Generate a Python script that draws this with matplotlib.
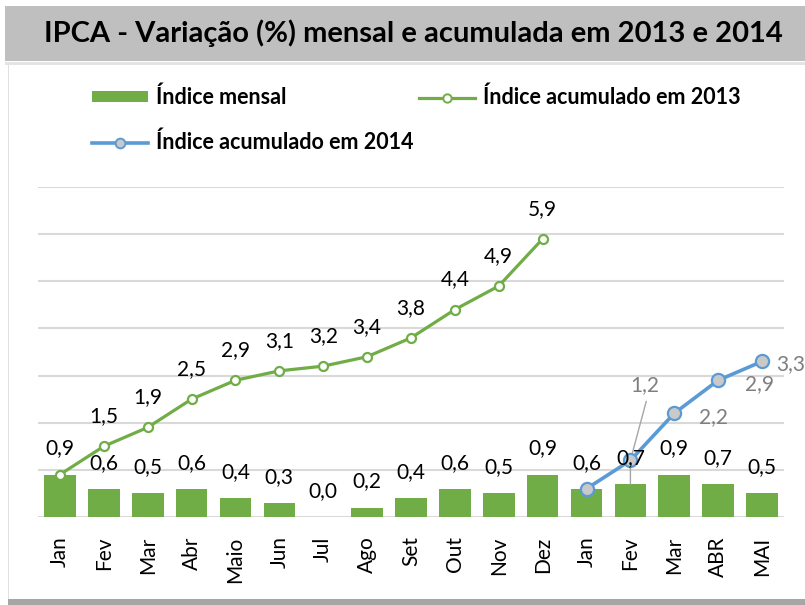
import matplotlib
matplotlib.use("Agg")
import matplotlib.pyplot as plt
from matplotlib.patches import Rectangle, Patch
from matplotlib.lines import Line2D

# Monthly IPCA (%) and accumulated index for 2013 and 2014
months = ["Jan", "Fev", "Mar", "Abr", "Maio", "Jun", "Jul", "Ago", "Set", "Out", "Nov", "Dez",
          "Jan", "Fev", "Mar", "ABR", "MAI"]
monthly = [0.9, 0.6, 0.5, 0.6, 0.4, 0.3, 0.0, 0.2, 0.4, 0.6, 0.5, 0.9,
           0.6, 0.7, 0.9, 0.7, 0.5]
acc_2013 = [0.9, 1.5, 1.9, 2.5, 2.9, 3.1, 3.2, 3.4, 3.8, 4.4, 4.9, 5.9]
acc_2014 = [0.6, 1.2, 2.2, 2.9, 3.3]

GREEN = "#70AD47"
BLUE = "#5B9BD5"
GRID = "#D9D9D9"
LABEL_GREY = "#7F7F7F"
FONT = "Lato"
LBL = 15

plt.rcParams["font.family"] = [FONT, "DejaVu Sans"]

fig = plt.figure(figsize=(8.05, 6.05), dpi=100)
W, H = 805, 605

# header band and outer frame
fig.patches.append(Rectangle((5 / W, 1 - 61 / H), 1, 55 / H, transform=fig.transFigure,
                             facecolor="#BFBFBF", edgecolor="none", zorder=0))
fig.patches.append(Rectangle((5 / W, 1 - 65 / H), 1, 3 / H, transform=fig.transFigure,
                             facecolor="#E4E4E4", edgecolor="none", zorder=0))
fig.patches.append(Rectangle((8 / W, 0), 1.2 / W, 1 - 65 / H, transform=fig.transFigure,
                             facecolor="#E0E0E0", edgecolor="none", zorder=0))
fig.patches.append(Rectangle((8 / W, 0), 1, 6 / H, transform=fig.transFigure,
                             facecolor="#A6A6A6", edgecolor="none", zorder=0))
fig.text(413 / W, 1 - 33 / H, "IPCA - Variação (%) mensal e acumulada em 2013 e 2014",
         ha="center", va="center", fontsize=21, fontweight="bold", color="#000000")

ax = fig.add_axes([38 / W, 88 / H, (784 - 38) / W, (517 - 187) / H])
x_all = list(range(len(months)))
x_2013 = x_all[:len(acc_2013)]
x_2014 = x_all[len(acc_2013):]

ax.set_xlim(-0.5, len(months) - 0.5)
ax.set_ylim(0, 7)
ax.set_yticks(range(0, 8))
ax.yaxis.grid(True, color=GRID, linewidth=1.5)
ax.set_axisbelow(True)
ax.tick_params(axis="y", left=False, labelleft=False)
ax.tick_params(axis="x", length=0, pad=14, labelsize=15, labelrotation=90)
for s in ax.spines.values():
    s.set_visible(False)
ax.set_xticks(x_all)
ax.set_xticklabels(months)

fmt = lambda v: f"{v:.1f}".replace(".", ",")

bars = ax.bar(x_all, monthly, width=0.72, color=GREEN, zorder=2)
for xi, v in zip(x_all, monthly):
    ax.annotate(fmt(v), (xi, v), xytext=(0, 26), textcoords="offset pixels",
                ha="center", va="center", fontsize=LBL, color="black", zorder=5)

ax.plot(x_2013, acc_2013, color=GREEN, lw=2.3, marker="o", ms=6.5,
        mfc="white", mec=GREEN, mew=1.6, zorder=3, clip_on=False)
for xi, v in list(zip(x_2013, acc_2013))[1:]:
    ax.annotate(fmt(v), (xi, v), xytext=(0, 30), textcoords="offset pixels",
                ha="center", va="center", fontsize=LBL, color="black", zorder=5)

# leader line for the Feb/2014 label, running down to the bar top
feb = x_2014[1]
ax.plot([feb + 0.36, feb, feb], [2.45, acc_2014[1], monthly[feb]],
        color="#A6A6A6", lw=1, zorder=2.5)

ax.plot(x_2014, acc_2014, color=BLUE, lw=2.6, marker="o", ms=9.5,
        mfc="#C9C9C9", mec=BLUE, mew=1.6, zorder=4, clip_on=False)
offsets_2014 = [None, (14, 75), (39, -4), (41, -4), (29, -3)]
for xi, v, off in zip(x_2014, acc_2014, offsets_2014):
    if off is None:
        continue
    ax.annotate(fmt(v), (xi, v), xytext=off, textcoords="offset pixels",
                ha="center", va="center", fontsize=LBL, color=LABEL_GREY, zorder=5,
                annotation_clip=False)

handles = [
    Patch(facecolor=GREEN, edgecolor="none", label="Índice mensal"),
    Line2D([], [], color=BLUE, lw=2.6, marker="o", ms=7, mfc="#C9C9C9", mec=BLUE,
           mew=1.4, label="Índice acumulado em 2014"),
    Line2D([], [], color=GREEN, lw=2.3, marker="o", ms=6, mfc="white", mec=GREEN,
           mew=1.4, label="Índice acumulado em 2013"),
]
leg = fig.legend(handles=handles, ncol=2, loc="upper left",
                 bbox_to_anchor=(92 / W, 1 - 87 / H), frameon=False,
                 prop={"family": [FONT, "DejaVu Sans"], "weight": "bold", "size": 15.5},
                 handlelength=2.6, handleheight=0.4, handletextpad=0.35,
                 columnspacing=0.3, labelspacing=1.08, borderaxespad=0, borderpad=0)

fig.savefig("out.png", dpi=100)
